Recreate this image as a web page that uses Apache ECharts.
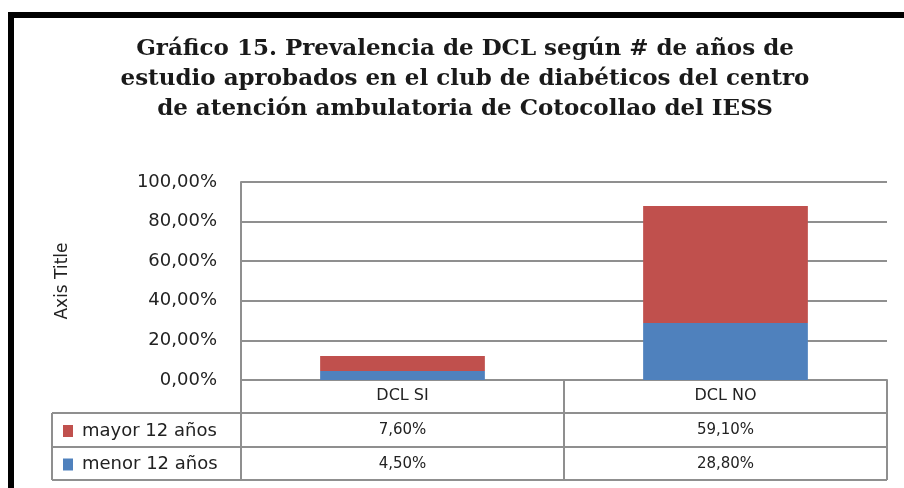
<!DOCTYPE html>
<html>
<head>
<meta charset="utf-8">
<script src="https://cdn.jsdelivr.net/npm/echarts@6/dist/echarts.min.js"></script>
<style>
  html, body { margin: 0; padding: 0; background: #fff; }
  #chart { width: 904px; height: 488px; }
</style>
</head>
<body>
<div id="chart"></div>
<script>
// datos
const categories = ['DCL SI', 'DCL NO'];
const seriesNames = ['menor 12 años', 'mayor 12 años'];
const menor = [4.5, 28.8];
const mayor = [7.6, 59.1];
const yMin = 0;
const yMax = 100;
const yStep = 20;

const gray = '#8f8f8f';
const fmt = v => v.toFixed(2).replace('.', ',') + '%';

// geometria del area del grafico y de la tabla
const plotLeft = 241, plotRight = 887, plotTop = 182, plotBottom = 380;
const rowLines = [413, 447, 480];
const tableLeft = 52;

const chart = echarts.init(document.getElementById('chart'));

const graphic = [
  {
    type: 'rect',
    shape: { x: 11, y: 15, width: 1000, height: 1000 },
    style: { fill: 'transparent', stroke: '#000', lineWidth: 6 },
  },
];
rowLines.forEach(y => {
  graphic.push({
    type: 'line',
    shape: { x1: tableLeft, y1: y, x2: plotRight, y2: y },
    style: { stroke: gray, lineWidth: 2 },
  });
});
graphic.push({
  type: 'line',
  shape: { x1: tableLeft, y1: rowLines[0], x2: tableLeft, y2: rowLines[2] },
  style: { stroke: gray, lineWidth: 2 },
});

const valueAxis = (data, offset) => ({
  type: 'category',
  gridIndex: 0,
  data: data,
  position: 'bottom',
  offset: offset,
  axisLine: { show: false },
  axisTick: { show: false },
  axisLabel: { margin: 10, fontFamily: 'DejaVu Sans', fontSize: 15, color: '#222' },
});

const option = {
  animation: false,
  title: {
    text: 'Gráfico 15. Prevalencia de DCL según # de años de\nestudio aprobados en el club de diabéticos del centro\nde atención ambulatoria de Cotocollao del IESS',
    left: 460,
    textAlign: 'center',
    top: 29,
    textStyle: {
      fontFamily: 'DejaVu Serif',
      fontWeight: 'bold',
      fontSize: 23,
      lineHeight: 30,
      color: '#1a1a1a',
    },
  },
  legend: {
    orient: 'vertical',
    left: 58,
    top: 416,
    data: [seriesNames[1], seriesNames[0]],
    icon: 'rect',
    itemWidth: 10,
    itemHeight: 12,
    itemGap: 13.5,
    textStyle: {
      fontFamily: 'DejaVu Sans',
      fontSize: 18,
      lineHeight: 20,
      color: '#222',
      padding: [0, 0, 0, 4],
    },
    selectedMode: false,
  },
  grid: {
    left: plotLeft,
    top: plotTop,
    width: plotRight - plotLeft,
    height: plotBottom - plotTop,
  },
  xAxis: [
    {
      type: 'category',
      data: categories,
      axisLine: { lineStyle: { color: gray, width: 2 } },
      axisTick: { show: true, interval: 0, length: 100, lineStyle: { color: gray, width: 2 } },
      axisLabel: { margin: 8, fontFamily: 'DejaVu Sans', fontSize: 16, color: '#222' },
    },
    valueAxis(mayor.map(fmt), 33),
    valueAxis(menor.map(fmt), 67),
  ],
  yAxis: {
    type: 'value',
    min: yMin,
    max: yMax,
    interval: yStep,
    name: 'Axis Title',
    nameLocation: 'middle',
    nameGap: 170,
    nameRotate: 90,
    nameTextStyle: { fontFamily: 'DejaVu Sans', fontSize: 17, color: '#222' },
    axisLine: { show: true, lineStyle: { color: gray, width: 2 } },
    axisTick: { show: false },
    axisLabel: {
      margin: 24,
      fontFamily: 'DejaVu Sans',
      fontSize: 18,
      color: '#222',
      formatter: v => fmt(v),
    },
    splitLine: { lineStyle: { color: gray, width: 2 } },
  },
  series: [
    {
      name: seriesNames[0],
      type: 'bar',
      stack: 'total',
      barWidth: '51%',
      data: menor,
      itemStyle: { color: '#4F81BD' },
    },
    {
      name: seriesNames[1],
      type: 'bar',
      stack: 'total',
      barWidth: '51%',
      data: mayor,
      itemStyle: { color: '#C0504D' },
    },
  ],
  graphic: graphic,
};

chart.setOption(option);
</script>
</body>
</html>
